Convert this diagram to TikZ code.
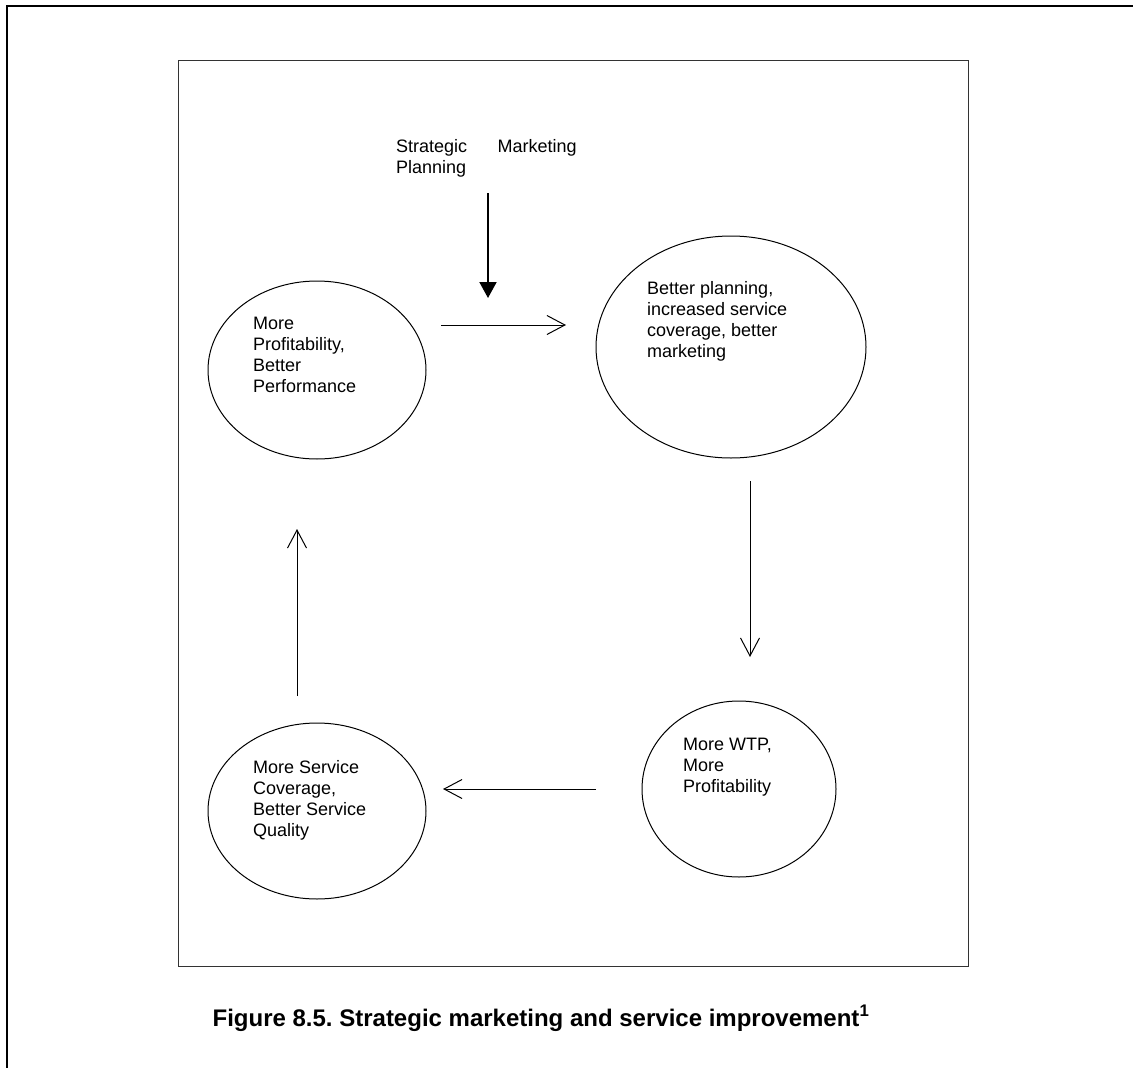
\documentclass[tikz,border=0pt]{standalone}
\usepackage{fontspec}
\setmainfont{Liberation Sans}
\usetikzlibrary{arrows.meta, positioning, shapes.geometric}
\frenchspacing

\begin{document}
\begin{tikzpicture}[x=1pt, y=-1pt,
  bubble/.style={draw, ellipse, line width=1pt, inner sep=0pt},
  txt/.style={align=left, anchor=north west, inner sep=0pt, font=\fontsize{18}{21}\selectfont},
  flow/.style={line width=1pt, -{Straight Barb[length=18pt, width=19pt]}}]

  \useasboundingbox (0,0) rectangle (1133,1068);

  % frames
  \draw[line width=2pt] (7,1068) -- (7,6) -- (1133,6);
  \draw[line width=1pt, black!80] (178,60) rectangle (968,966);

  % bubbles
  \node[bubble, minimum width=218pt, minimum height=178pt] (perf) at (317,370) {};
  \node[bubble, minimum width=270pt, minimum height=222pt] (plan) at (731,347) {};
  \node[bubble, minimum width=194pt, minimum height=176pt] (wtp)  at (739,789) {};
  \node[bubble, minimum width=218pt, minimum height=176pt] (serv) at (317,811) {};

  \node[txt] (perftxt) at (253,317) {More\\Profitability,\\Better\\Performance};
  \node[txt] (plantxt) at (647,281) {Better planning,\\increased service\\coverage, better\\marketing};
  \node[txt] (wtptxt)  at (683,738) {More WTP,\\More\\Profitability};
  \node[txt] (servtxt) at (253,760) {More Service\\Coverage,\\Better Service\\Quality};

  \node[txt] (strat) at (396,139) {Strategic\\Planning};
  \node[txt, right=30pt of strat.north east, anchor=north west] (mkt) {Marketing};

  % arrows
  \coordinate (in1)  at (488,193);
  \coordinate (in2)  at (488,298);
  \coordinate (a1)   at (441,325);
  \coordinate (a2)   at (566,325);
  \coordinate (b1)   at (750,481);
  \coordinate (b2)   at (750,657);
  \coordinate (c1)   at (596,789);
  \coordinate (c2)   at (443,789);
  \coordinate (d1)   at (297,696);
  \coordinate (d2)   at (297,529);

  \draw[line width=2pt, -{Triangle[length=16pt, width=17pt]}] (in1) -- (in2);
  \draw[flow] (a1) -- (a2);
  \draw[flow] (b1) -- (b2);
  \draw[flow] (c1) -- (c2);
  \draw[flow] (d1) -- (d2);

  % caption
  \node[anchor=base, inner sep=0pt, font=\fontsize{24}{28}\selectfont\bfseries] (cap) at (541,1026)
    {Figure 8.5. Strategic marketing and service improvement\textsuperscript{1}};

\end{tikzpicture}
\end{document}
